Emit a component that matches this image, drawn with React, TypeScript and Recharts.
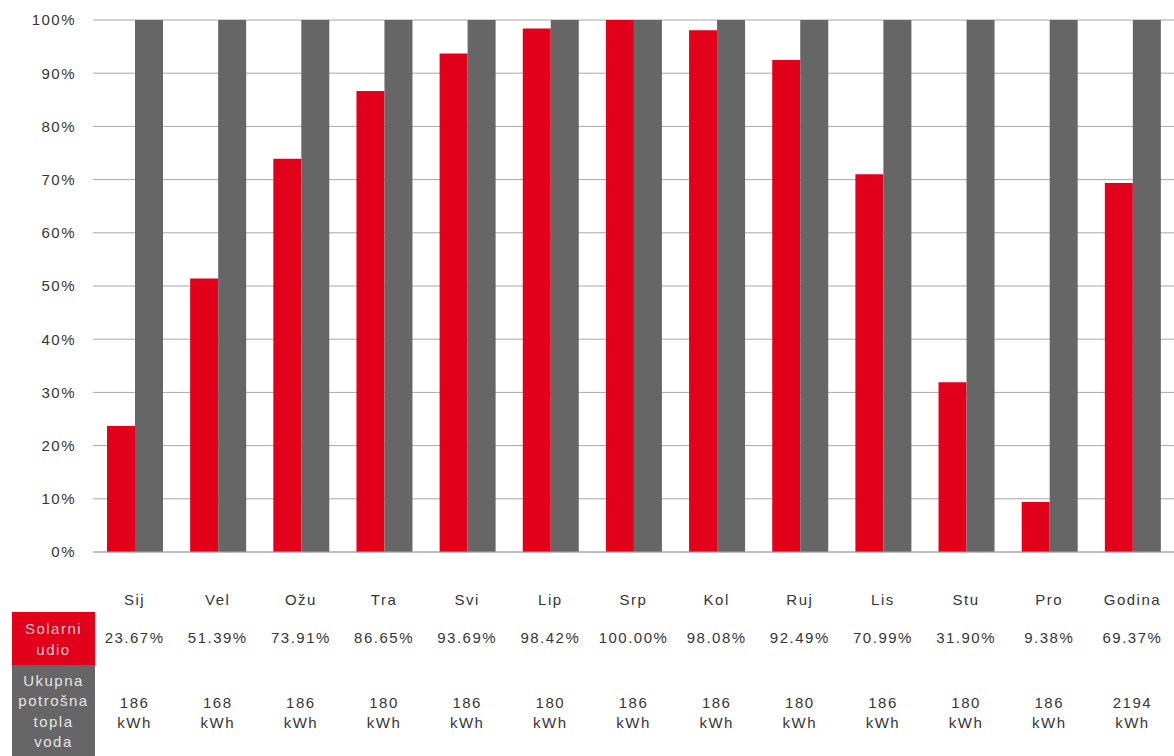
import { BarChart, Bar, XAxis, YAxis, CartesianGrid } from 'recharts'

const months = ['Sij', 'Vel', 'Ožu', 'Tra', 'Svi', 'Lip', 'Srp', 'Kol', 'Ruj', 'Lis', 'Stu', 'Pro', 'Godina']
const solarShare = [23.67, 51.39, 73.91, 86.65, 93.69, 98.42, 100.0, 98.08, 92.49, 70.99, 31.9, 9.38, 69.37]
const totalShare = [100, 100, 100, 100, 100, 100, 100, 100, 100, 100, 100, 100, 100]
const consumption = [186, 168, 186, 180, 186, 180, 186, 186, 180, 186, 180, 186, 2194]
const yTicks = [0, 10, 20, 30, 40, 50, 60, 70, 80, 90, 100]

const RED = '#e2001a'
const GRAY = '#666666'
const TEXT = '#363636'

const chartData = months.map((month, i) => ({
  month,
  solar: solarShare[i],
  total: totalShare[i],
  kwh: consumption[i],
}))

const textStyle = { fontSize: 15, letterSpacing: 1.5, fill: TEXT }

// x axis tick draws the whole column of the table under each bar group
function TableTick(props: any) {
  const { x, y, payload } = props
  const i = payload.index
  return (
    <g transform={`translate(${x},${y})`}>
      <text textAnchor="middle" y={52.5} style={textStyle}>{months[i]}</text>
      <text textAnchor="middle" y={91} style={textStyle}>{solarShare[i].toFixed(2)}%</text>
      <text textAnchor="middle" y={156} style={textStyle}>{consumption[i]}</text>
      <text textAnchor="middle" y={176} style={textStyle}>kWh</text>
    </g>
  )
}

const boxText = {
  fontSize: 15,
  letterSpacing: 1.5,
  textAlign: 'center' as const,
  display: 'flex',
  flexDirection: 'column' as const,
  justifyContent: 'center',
  position: 'absolute' as const,
  left: 12,
  width: 83,
}

export default function App() {
  return (
    <div
      style={{
        position: 'absolute',
        left: 0,
        top: 0,
        width: 1174,
        height: 756,
        background: '#fff',
        fontFamily: '"Liberation Sans", Arial, sans-serif',
        overflow: 'hidden',
      }}
    >
      <BarChart
        width={1174}
        height={756}
        data={chartData}
        margin={{ top: 20, right: 0, left: 0, bottom: 0 }}
        barCategoryGap={14}
        barGap={0}
      >
        <CartesianGrid vertical={false} stroke="#a8a8a8" strokeWidth={1} />
        <XAxis
          dataKey="month"
          height={204}
          tickLine={false}
          tickSize={0}
          tickMargin={0}
          axisLine={{ stroke: '#a8a8a8' }}
          tick={<TableTick />}
          interval={0}
        />
        <YAxis
          width={93}
          domain={[0, 100]}
          ticks={yTicks}
          tickFormatter={(v: number) => `${v}%`}
          axisLine={false}
          tickLine={false}
          tickSize={0}
          tickMargin={17}
          tick={textStyle}
        />
        <Bar dataKey="solar" fill={RED} isAnimationActive={false} />
        <Bar dataKey="total" fill={GRAY} isAnimationActive={false} />
      </BarChart>
      <div style={{ ...boxText, top: 612, height: 53, background: RED, color: '#f7c9cc', lineHeight: '21px' }}>
        <span>Solarni</span>
        <span>udio</span>
      </div>
      <div style={{ ...boxText, top: 665, height: 91, background: GRAY, color: '#e4e4e4', lineHeight: '20.5px', paddingTop: 2, boxSizing: 'border-box' }}>
        <span>Ukupna</span>
        <span>potrošna</span>
        <span>topla</span>
        <span>voda</span>
      </div>
    </div>
  )
}
